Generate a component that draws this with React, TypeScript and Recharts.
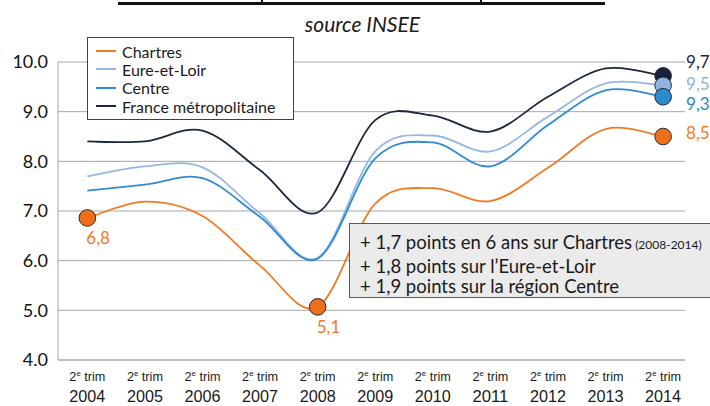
import React from 'react';
import { LineChart, Line, XAxis, YAxis, CartesianGrid, Legend } from 'recharts';

const years = ['2004', '2005', '2006', '2007', '2008', '2009', '2010', '2011', '2012', '2013', '2014'];
const yTicks = [4, 5, 6, 7, 8, 9, 10];

const chartres = [6.86, 7.19, 6.9, 5.9, 5.07, 7.15, 7.46, 7.2, 7.87, 8.65, 8.5];
const eureEtLoir = [7.7, 7.9, 7.88, 6.95, 6.06, 8.2, 8.52, 8.2, 8.9, 9.57, 9.53];
const centre = [7.41, 7.53, 7.66, 6.88, 6.04, 8.06, 8.38, 7.9, 8.73, 9.43, 9.3];
const france = [8.4, 8.4, 8.62, 7.82, 6.97, 8.83, 8.92, 8.6, 9.3, 9.87, 9.72];

// data labels as printed on the chart ('' = no marker)
const chartresLabels = ['6,8', '', '', '', '5,1', '', '', '', '', '', '8,5'];
const eureEtLoirLabels = ['', '', '', '', '', '', '', '', '', '', '9,5'];
const centreLabels = ['', '', '', '', '', '', '', '', '', '', '9,3'];
const franceLabels = ['', '', '', '', '', '', '', '', '', '', '9,7'];

const notes = [
  '+ 1,7 points en 6 ans sur Chartres',
  '+ 1,8 points sur l\u2019Eure-et-Loir',
  '+ 1,9 points sur la région Centre',
];

const data = years.map((year, i) => ({
  i,
  year,
  chartres: chartres[i],
  eure: eureEtLoir[i],
  centre: centre[i],
  france: france[i],
}));

const FONT = 'Lato, "Open Sans", sans-serif';
const NARROW = '"Liberation Sans", Arial, sans-serif';

const series = [
  { key: 'chartres', name: 'Chartres', color: '#F07A25', dot: '#EE6E1A', labelColor: '#F07A25', labels: chartresLabels, endDy: -4 },
  { key: 'eure', name: 'Eure-et-Loir', color: '#93B8E3', dot: '#8DB3E2', labelColor: '#8DB3E2', labels: eureEtLoirLabels, endDy: -2 },
  { key: 'centre', name: 'Centre', color: '#2E8BD0', dot: '#2A8AD0', labelColor: '#2A86CB', labels: centreLabels, endDy: 7 },
  { key: 'france', name: 'France métropolitaine', color: '#1C2740', dot: '#18223A', labelColor: '#1C2740', labels: franceLabels, endDy: -14 },
];

// Excel-like smoothed line (catmull-rom bezier)
function smoothCurve(context: any) {
  let pts: number[][] = [];
  return {
    areaStart() {},
    areaEnd() {},
    lineStart() {
      pts = [];
    },
    point(x: number, y: number) {
      pts.push([+x, +y]);
    },
    lineEnd() {
      if (!pts.length) return;
      context.moveTo(pts[0][0], pts[0][1]);
      for (let k = 0; k < pts.length - 1; k++) {
        const p0 = pts[k - 1] || pts[k];
        const p1 = pts[k];
        const p2 = pts[k + 1];
        const p3 = pts[k + 2] || p2;
        context.bezierCurveTo(
          p1[0] + (p2[0] - p0[0]) / 6,
          p1[1] + (p2[1] - p0[1]) / 6,
          p2[0] - (p3[0] - p1[0]) / 6,
          p2[1] - (p3[1] - p1[1]) / 6,
          p2[0],
          p2[1]
        );
      }
    },
  };
}

function makeDot(s: typeof series[number]) {
  return (props: any) => {
    const { cx, cy, index } = props;
    const label = s.labels[index];
    if (!label) return <g key={`d-${s.key}-${index}`} />;
    const last = index === years.length - 1;
    return (
      <g key={`d-${s.key}-${index}`}>
        <circle cx={cx} cy={cy} r={8.3} fill={s.dot} stroke="#2b2b2b" strokeWidth={1} />
        <text
          x={last ? cx + 23 : cx - 1}
          y={last ? cy + s.endDy : cy + 20}
          dominantBaseline="central"
          fontFamily={FONT}
          fontSize={17}
          fill={s.labelColor}
        >
          {label}
        </text>
      </g>
    );
  };
}

function YearTick({ x, y, payload }: any) {
  return (
    <g transform={`translate(${x},${y})`}>
      <text
        x={0}
        y={21}
        textAnchor="middle"
        fontFamily={NARROW}
        fontSize={13}
        fill="#1a1a1a"
        textLength={36}
        lengthAdjust="spacingAndGlyphs"
      >
        <tspan>2</tspan>
        <tspan fontSize={8} dy={-5}>e</tspan>
        <tspan dy={5}> trim</tspan>
      </text>
      <text
        x={0}
        y={42}
        textAnchor="middle"
        fontFamily={NARROW}
        fontSize={17}
        fill="#1a1a1a"
        textLength={36}
        lengthAdjust="spacingAndGlyphs"
      >
        {years[payload.value]}
      </text>
    </g>
  );
}

function LegendBox() {
  return (
    <div
      style={{
        background: '#fff',
        border: '1px solid #404040',
        padding: '4px 12px 4px 8px',
        fontFamily: FONT,
        fontSize: 16,
        color: '#1a1a1a',
        width: 185,
      }}
    >
      {series.map((s) => (
        <div key={s.key} style={{ display: 'flex', alignItems: 'center', height: 18.3 }}>
          <span style={{ display: 'inline-block', width: 20, height: 2, background: s.color, marginRight: 6 }} />
          <span>{s.name}</span>
        </div>
      ))}
    </div>
  );
}

export default function App() {
  const drawOrder = [series[3], series[1], series[2], series[0]];
  return (
    <div style={{ position: 'absolute', left: 0, top: 0, width: 710, height: 406, background: '#fff', overflow: 'hidden' }}>
      <div style={{ position: 'absolute', left: 118, top: 2, width: 487, height: 3, background: '#111' }} />
      <div style={{ position: 'absolute', left: 261, top: 0, width: 2, height: 3, background: '#111' }} />
      <div style={{ position: 'absolute', left: 480, top: 0, width: 2, height: 3, background: '#111' }} />
      <div
        style={{
          position: 'absolute',
          left: 0,
          width: 725,
          top: 11,
          textAlign: 'center',
          fontFamily: FONT,
          fontStyle: 'italic',
          fontSize: 21,
          color: '#1a1a1a',
        }}
      >
        source INSEE
      </div>
      <LineChart width={710} height={406} data={data} margin={{ top: 62, right: 25, bottom: 0, left: 0 }}>
        <CartesianGrid vertical={false} stroke="#A6A6A6" strokeWidth={1} />
        <XAxis
          dataKey="i"
          type="number"
          domain={[-0.51, 10.38]}
          ticks={years.map((_, i) => i)}
          height={46}
          tickSize={0}
          tickMargin={0}
          tickLine={false}
          axisLine={{ stroke: '#A6A6A6' }}
          tick={<YearTick />}
          interval={0}
        />
        <YAxis
          width={58}
          domain={[4, 10]}
          ticks={yTicks}
          tickFormatter={(v: number) => v.toFixed(1)}
          tickSize={0}
          tickMargin={10}
          tickLine={false}
          axisLine={{ stroke: '#A6A6A6' }}
          tick={{ fontFamily: FONT, fontSize: 18, fill: '#111' }}
        />
        <Legend
          layout="vertical"
          align="center"
          verticalAlign="middle"
          wrapperStyle={{ left: 87, top: 37, width: 'auto' }}
          content={() => <LegendBox />}
        />
        {drawOrder.map((s) => (
          <Line
            key={s.key}
            dataKey={s.key}
            name={s.name}
            type={smoothCurve as any}
            stroke={s.color}
            strokeWidth={1.8}
            dot={makeDot(s)}
            activeDot={false}
            isAnimationActive={false}
          />
        ))}
      </LineChart>
      <div
        style={{
          position: 'absolute',
          left: 349,
          top: 223,
          width: 370,
          height: 75,
          background: '#EBEBEB',
          border: '1px solid #595959',
          padding: '8px 0 0 10px',
          boxSizing: 'border-box',
          fontFamily: FONT,
          fontSize: 18.5,
          color: '#1a1a1a',
          lineHeight: '20.5px',
          whiteSpace: 'nowrap',
        }}
      >
        {notes.map((n, k) => (
          <div key={k}>
            {n}
            {k === 0 ? <span style={{ fontSize: 12 }}> (2008-2014)</span> : null}
          </div>
        ))}
      </div>
    </div>
  );
}
